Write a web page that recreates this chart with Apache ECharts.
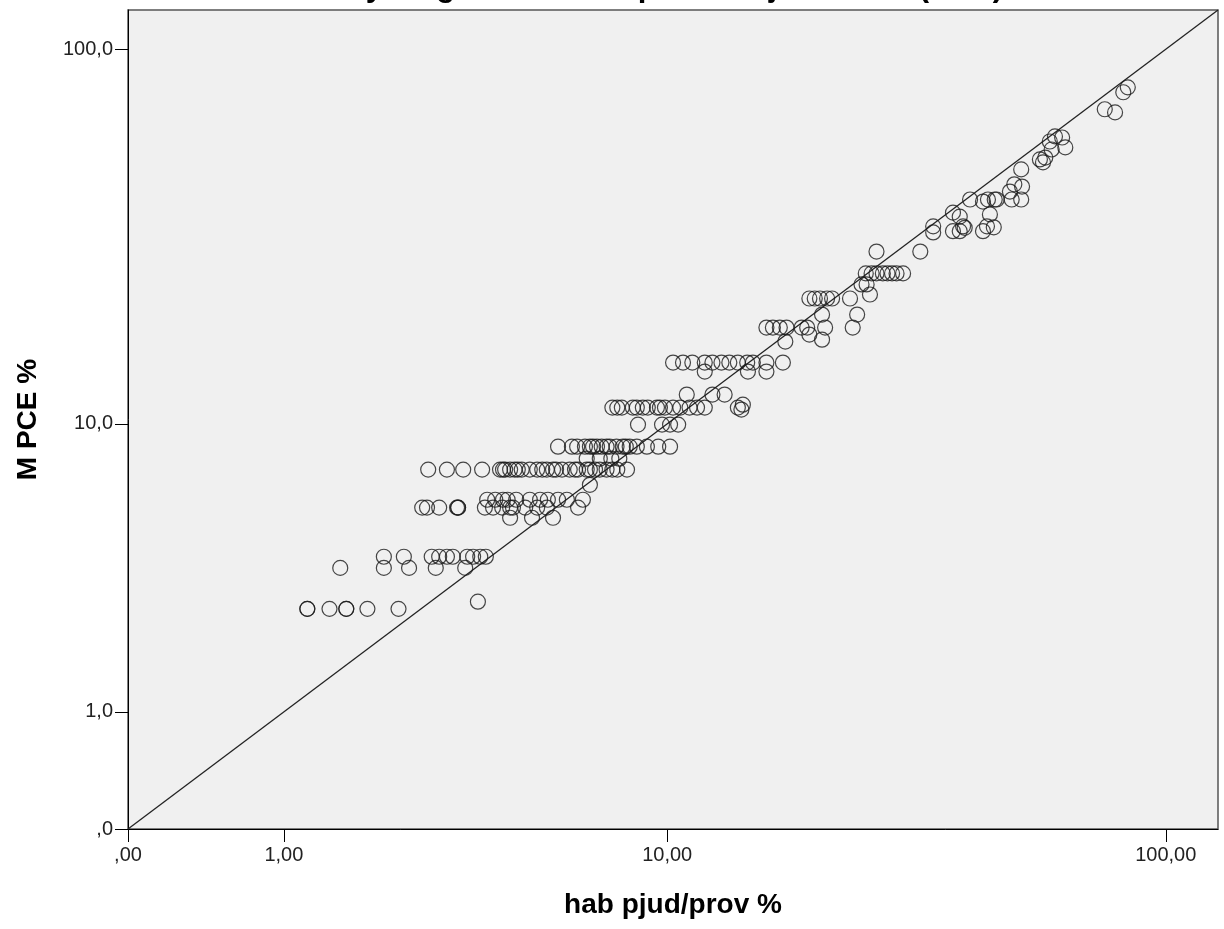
<!DOCTYPE html>
<html>
<head>
<meta charset="utf-8">
<title>Población y magnitud de los partidos judiciales (PCE)</title>
<script src="https://cdn.jsdelivr.net/npm/echarts@6/dist/echarts.min.js"></script>
<style>
  html, body { margin: 0; padding: 0; background: #ffffff; }
  #chart { width: 1224px; height: 929px; }
</style>
</head>
<body>
<div id="chart"></div>
<script>
// Tick marks of both axes (percent) and their printed labels (Spanish decimal comma)
const xTickValues = [0, 1, 10, 100];
const xTickLabels = [',00', '1,00', '10,00', '100,00'];
const yTickValues = [0, 1, 10, 100];
const yTickLabels = [',0', '1,0', '10,0', '100,0'];
// Upper end of both axes, percent
const axisTopPct = 126.4;

// [hab pjud/prov %, M PCE %] — small judicial districts
const smallDistricts = [
  [1.22,2.68],[1.22,2.68],[1.45,2.68],[1.64,2.68],[1.64,2.68],[1.90,2.68],[2.33,2.68],[3.74,2.84],
  [1.57,3.69],[2.12,3.69],[2.49,3.69],[2.93,3.69],[3.48,3.69],
  [2.12,4.01],[2.41,4.01],[2.86,4.01],[2.99,4.01],[3.13,4.01],[3.24,4.01],[3.52,4.01],[3.64,4.01],[3.79,4.01],[3.91,4.01],
  [4.47,5.31],[5.03,5.31],[5.62,5.31],
  [2.70,5.70],[2.78,5.70],[2.99,5.70],[3.32,5.70],[3.34,5.70],[3.34,5.70],[3.89,5.70],[4.07,5.70],[4.28,5.70],
  [4.47,5.70],[4.54,5.70],[4.85,5.70],[5.17,5.70],[5.44,5.70],[6.40,5.70],
  [3.94,6.02],[4.12,6.02],[4.30,6.02],[4.41,6.02],[4.62,6.02],[4.97,6.02],[5.25,6.02],[5.47,6.02],[5.77,6.02],
  [6.04,6.02],[6.56,6.02],[6.80,6.67]
];

// medium districts
const mediumDistricts = [
  [2.80,7.39],[3.13,7.39],[3.44,7.39],[3.83,7.39],[4.23,7.39],[4.30,7.39],[4.35,7.39],[4.47,7.39],[4.58,7.39],
  [4.66,7.39],[4.76,7.39],[4.97,7.39],[5.17,7.39],[5.31,7.39],[5.44,7.39],[5.62,7.39],[5.71,7.39],[5.89,7.39],
  [6.13,7.39],[6.30,7.39],[6.40,7.39],[6.69,7.39],[6.80,7.39],[6.98,7.39],[7.15,7.39],[7.40,7.39],[7.62,7.39],
  [7.81,7.39],[8.20,7.39],
  [6.69,7.95],[7.15,7.95],[7.58,7.95],[7.89,7.95],
  [5.77,8.61],[6.20,8.61],[6.37,8.61],[6.63,8.61],[6.80,8.61],[6.91,8.61],[7.05,8.61],[7.22,8.61],[7.40,8.61],
  [7.52,8.61],[7.78,8.61],[8.03,8.61],[8.15,8.61],[8.31,8.61],[8.61,8.61],[9.05,8.61],[9.57,8.61],[10.14,8.61],
  [8.66,9.95],[9.75,9.95],[10.14,9.95],[10.55,9.95],
  [7.62,11.11],[7.81,11.11],[7.99,11.11],[8.44,11.11],[8.61,11.11],[8.87,11.11],[9.09,11.11],[9.51,11.11],
  [9.65,11.11],[9.89,11.11],[10.29,11.11],[10.66,11.11],[11.15,11.11],[11.56,11.11],[12.00,11.11],[14.06,11.11],
  [14.40,11.32],[14.30,10.97],
  [11.00,12.08],[12.45,12.08],[13.20,12.08],
  [12.00,13.99],[14.75,13.99],[16.10,13.99],
  [10.29,14.81],[10.80,14.81],[11.30,14.81],[12.00,14.81],[12.45,14.81],[13.00,14.81],[13.50,14.81],[14.06,14.81],
  [14.70,14.81],[15.10,14.81],[16.10,14.81],[17.40,14.81]
];

// large districts (capitals and big towns)
const largeDistricts = [
  [17.6,16.9],
  [16.1,18.45],[16.6,18.45],[17.15,18.45],[17.7,18.45],[19.0,18.45],[19.5,18.45],[21.2,18.45],[24.1,18.45],
  [19.7,17.66],[20.9,17.1],
  [20.9,20.0],[24.6,20.0],
  [19.7,22.1],[20.2,22.1],[20.7,22.1],[21.4,22.1],[21.9,22.1],[23.8,22.1],
  [26.1,22.65],[25.1,24.1],[25.7,24.1],
  [25.6,25.8],[26.3,25.8],[26.9,25.8],[27.7,25.8],[28.3,25.8],[28.9,25.8],[29.5,25.8],[30.4,25.8],
  [26.9,29.5],[32.9,29.5],
  [34.9,34.4],[34.9,33.15],
  [38.2,37.4],[38.2,33.4],[39.4,33.4],[40.3,34.1],[40.0,34.4],[39.4,36.5],
  [41.3,40.5],[43.8,40.0],[44.8,40.5],[46.2,40.5],[46.6,40.5],
  [45.2,37.0],[44.6,34.4],[43.8,33.4],[46.0,34.2],
  [49.5,42.5],[50.5,44.4],[52.3,43.8],[49.9,40.5],[52.1,40.5],[52.1,48.6],
  [56.7,51.6],[58.1,52.2],[57.5,50.7],[59.8,54.8],[63.6,55.5],[59.3,57.5],[60.7,59.3],[62.7,58.9],
  [76.0,69.8],[79.6,68.5],[82.6,77.3],[84.3,79.6]
];

// Both axes use the SPSS "safe log" scale: log10(1 + v)
const tf = v => Math.log10(1 + v);
const labelAt = (vals, labels) => t => {
  let best = 0;
  vals.forEach((v, i) => { if (Math.abs(tf(v) - t) < Math.abs(tf(vals[best]) - t)) best = i; });
  return labels[best];
};

const points = smallDistricts.concat(mediumDistricts, largeDistricts).map(([x, y]) => [tf(x), tf(y)]);
const identityLine = [[tf(0), tf(0)], [tf(axisTopPct), tf(axisTopPct)]];

const FONT = '"Liberation Sans", Arial, sans-serif';
const chart = echarts.init(document.getElementById('chart'), null, { renderer: 'canvas' });

const axisCommon = {
  type: 'value',
  min: 0,
  max: tf(axisTopPct),
  splitLine: { show: false },
  axisLine: { show: true, onZero: false, lineStyle: { color: '#000', width: 1 } },
  nameLocation: 'middle',
  nameTextStyle: { fontFamily: FONT, fontSize: 28, fontWeight: 'bold', color: '#000' }
};

chart.setOption({
  animation: false,
  backgroundColor: '#ffffff',
  title: {
    text: 'Población y magnitud de los partidos judiciales (PCE)',
    left: 606,
    top: -28,
    padding: 0,
    textAlign: 'center',
    textStyle: { fontFamily: FONT, fontSize: 31, fontWeight: 'bold', color: '#000' }
  },
  grid: {
    left: 128, right: 6, top: 10, bottom: 100,
    show: true,
    backgroundColor: '#f0f0f0',
    borderColor: '#555',
    borderWidth: 1.5
  },
  xAxis: Object.assign({}, axisCommon, {
    name: 'hab pjud/prov %',
    nameGap: 62,
    axisTick: { show: true, length: 13, customValues: xTickValues.map(tf), lineStyle: { color: '#000' } },
    axisLabel: {
      customValues: xTickValues.map(tf),
      formatter: labelAt(xTickValues, xTickLabels),
      margin: 16, fontFamily: FONT, fontSize: 20, color: '#222'
    }
  }),
  yAxis: Object.assign({}, axisCommon, {
    name: 'M PCE %',
    nameGap: 86,
    axisTick: { show: true, length: 13, customValues: yTickValues.map(tf), lineStyle: { color: '#000' } },
    axisLabel: {
      customValues: yTickValues.map(tf),
      formatter: labelAt(yTickValues, yTickLabels),
      margin: 15, fontFamily: FONT, fontSize: 20, color: '#222'
    }
  }),
  series: [
    {
      type: 'line',
      data: identityLine,
      symbol: 'none',
      silent: true,
      lineStyle: { color: '#222', width: 1.3 },
      z: 2
    },
    {
      type: 'scatter',
      data: points,
      symbol: 'circle',
      symbolSize: 15,
      itemStyle: { color: 'rgba(0,0,0,0)', borderColor: '#1a1a1a', borderWidth: 1.2 },
      z: 3
    }
  ]
});
</script>
</body>
</html>
